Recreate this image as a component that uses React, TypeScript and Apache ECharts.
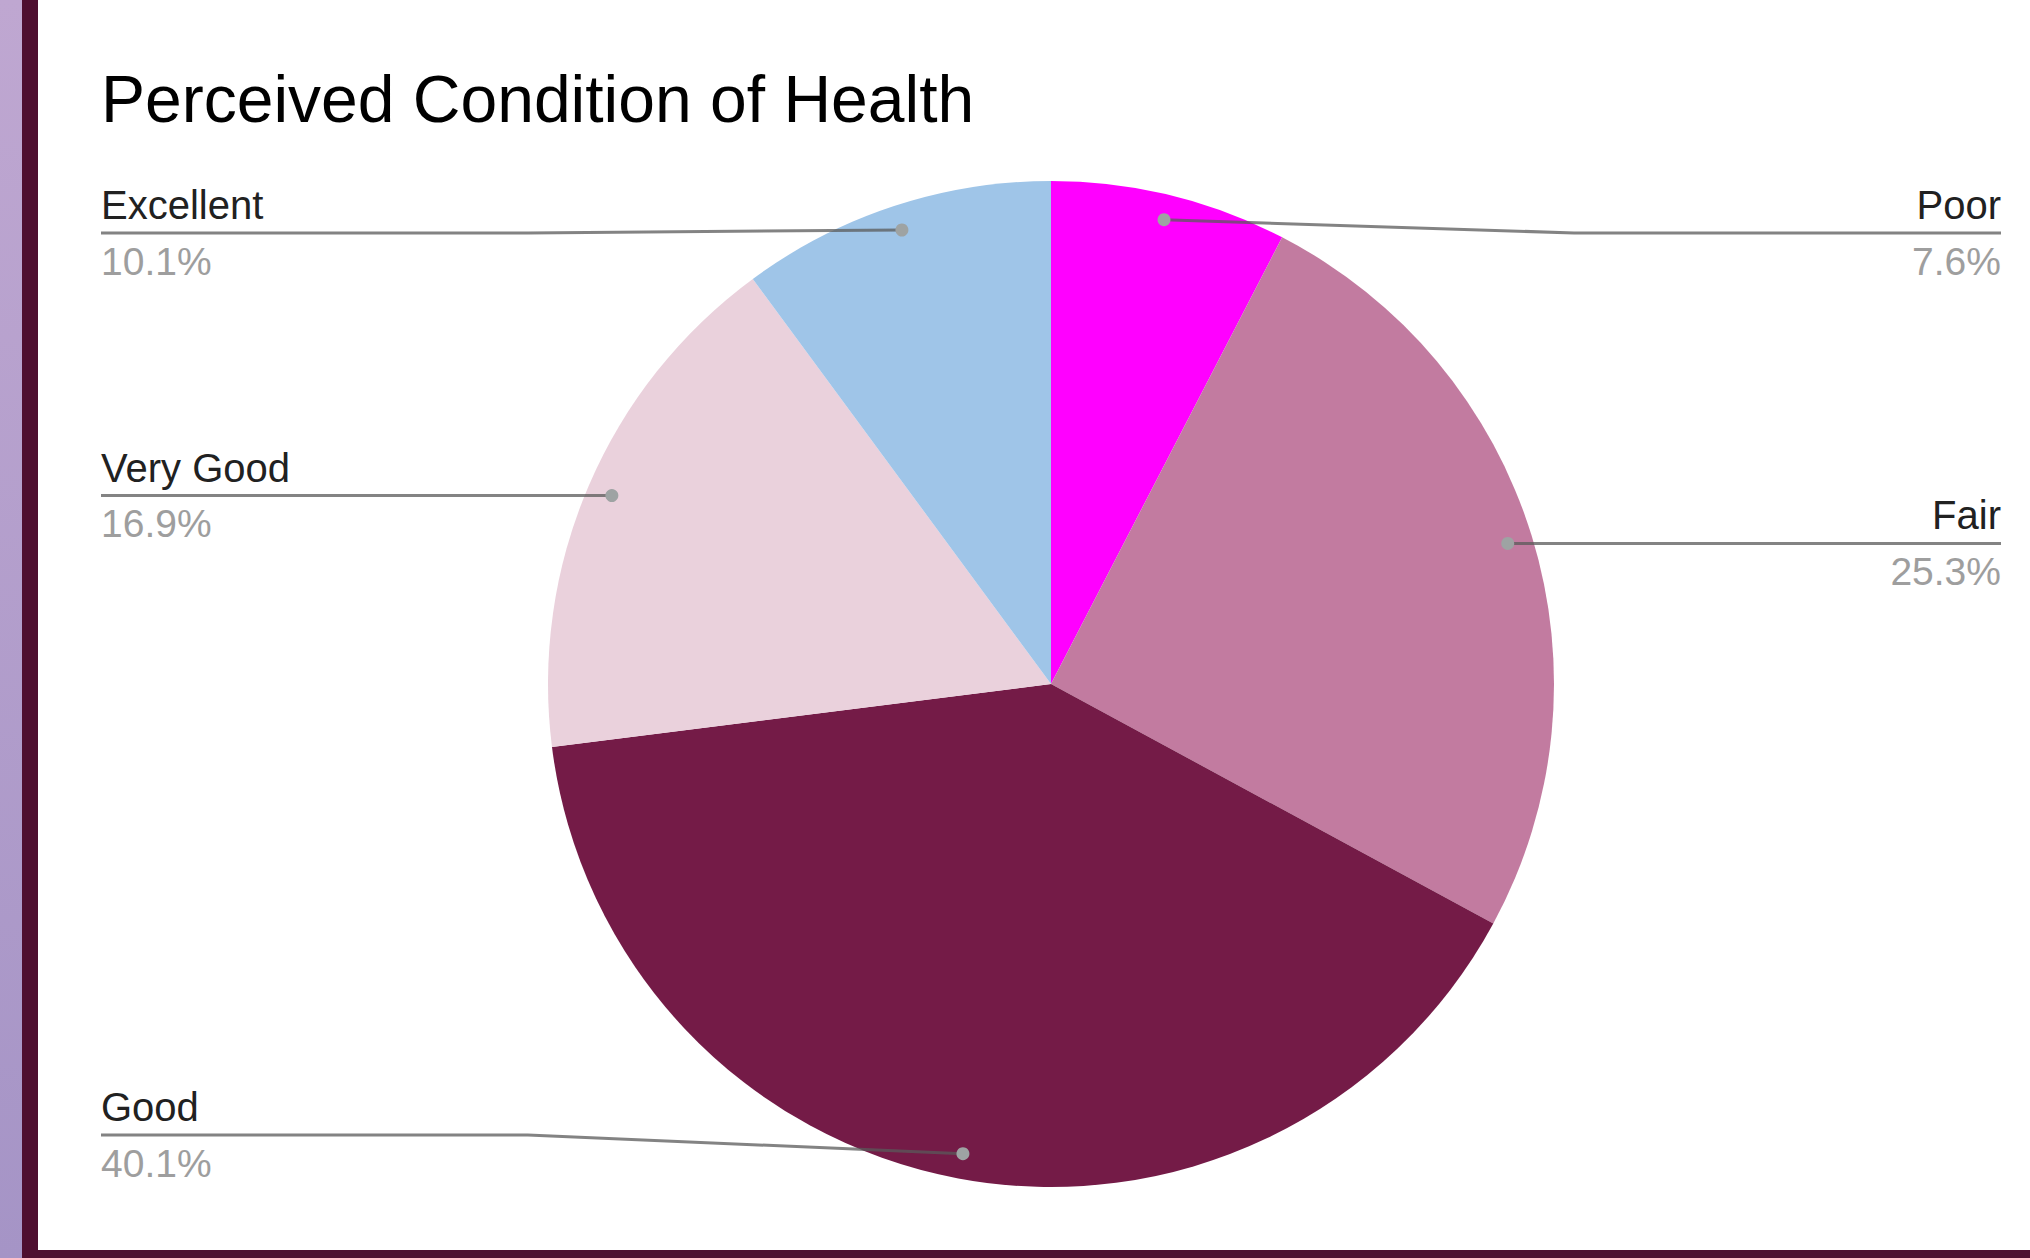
import React, { useEffect, useRef } from "react";
import * as echarts from "echarts";

const TITLE = "Perceived Condition of Health";
const categories = ["Poor", "Fair", "Good", "Very Good", "Excellent"];
const values = [7.6, 25.3, 40.1, 16.9, 10.1];
const colors = ["#ff00ff", "#c27ba0", "#741b47", "#ead1dc", "#9fc5e8"];

const W = 2030;
const H = 1258;
const CX = 1051;
const CY = 684;
const R = 503;
const DOT_R = 0.95;
const FONT = "'Liberation Sans', Arial, sans-serif";

export default function App() {
  const ref = useRef<HTMLDivElement>(null);

  useEffect(() => {
    if (!ref.current) return;
    const chart = echarts.init(ref.current, undefined, { renderer: "svg" });

    const total = values.reduce((a, b) => a + b, 0);
    const mids: number[] = [];
    let acc = 0;
    values.forEach((v) => {
      mids.push(((acc + v / 2) / total) * 100);
      acc += v;
    });

    const leftX = 101;
    const rightX = 2001;
    const minY = 233;
    const maxY = 1135;

    const dotPos = (i: number) => {
      const a = (mids[i] / 100) * Math.PI * 2;
      return [CX + DOT_R * R * Math.sin(a), CY - DOT_R * R * Math.cos(a)];
    };

    const pieData = categories.map((c, i) => ({ name: c, value: values[i], itemStyle: { color: colors[i] } }));

    chart.setOption({
      animation: false,
      backgroundColor: "#ffffff",
      title: {
        text: TITLE,
        left: 101,
        top: 66,
        padding: 0,
        textStyle: { fontSize: 66, fontWeight: "normal", color: "#000000", fontFamily: FONT },
      },
      graphic: [
        {
          type: "rect",
          shape: { x: 0, y: 0, width: 22, height: H },
          style: {
            fill: {
              type: "linear",
              x: 0, y: 0, x2: 0, y2: 1,
              colorStops: [
                { offset: 0, color: "#bfa7d1" },
                { offset: 1, color: "#a594c6" },
              ],
            },
          },
          silent: true,
        },
        { type: "rect", shape: { x: 22, y: 0, width: 16, height: H }, style: { fill: "#4e0f30" }, silent: true },
        { type: "rect", shape: { x: 22, y: 1250, width: W - 22, height: 8 }, style: { fill: "#4e0f30" }, silent: true },
      ],
      polar: { center: [CX, CY], radius: R },
      angleAxis: { type: "value", min: 0, max: 100, startAngle: 90, clockwise: true, show: false },
      radiusAxis: { type: "value", min: 0, max: 1, show: false },
      series: [
        {
          type: "pie",
          center: [CX, CY],
          radius: R,
          startAngle: 90,
          clockwise: true,
          itemStyle: { borderWidth: 0 },
          data: pieData,
          label: { show: false },
          labelLine: { show: false },
          emphasis: { disabled: true },
          silent: true,
          z: 2,
        },
        {
          type: "pie",
          center: [CX, CY],
          radius: R,
          startAngle: 90,
          clockwise: true,
          avoidLabelOverlap: false,
          percentPrecision: 1,
          itemStyle: { color: "rgba(0,0,0,0)", borderWidth: 0 },
          data: categories.map((c, i) => ({ name: c, value: values[i] })),
          label: {
            show: true,
            position: "outside",
            formatter: "{n|{b}}\n{p|{d}%}",
            rich: {
              n: { fontSize: 40, color: "#212121", lineHeight: 56, fontFamily: FONT },
              p: { fontSize: 39, color: "#9e9e9e", lineHeight: 56, fontFamily: FONT },
            },
          },
          labelLine: { show: true, smooth: false, lineStyle: { color: "rgba(90,90,90,0.75)", width: 3 } },
          labelLayout: (params: any) => {
            const i = params.dataIndex;
            const [dx, dy] = dotPos(i);
            const isRight = dx > CX;
            const ly = Math.min(maxY, Math.max(minY, dy));
            const elbowX = isRight ? CX + 1.04 * R : CX - 1.04 * R;
            const endX = isRight ? rightX : leftX;
            return {
              x: endX,
              y: ly,
              align: isRight ? "right" : "left",
              verticalAlign: "middle",
              labelLinePoints: [
                [dx, dy],
                [elbowX, ly],
                [endX, ly],
              ],
            };
          },
          emphasis: { disabled: true },
          silent: true,
          z: 4,
        },
        {
          type: "scatter",
          coordinateSystem: "polar",
          symbol: "circle",
          symbolSize: 13,
          itemStyle: { color: "#9ea3a3", opacity: 1 },
          data: mids.map((m) => [DOT_R, m]),
          silent: true,
          z: 6,
        },
      ],
    });

    return () => chart.dispose();
  }, []);

  return (
    <div
      ref={ref}
      style={{ position: "fixed", left: 0, top: 0, width: W, height: H }}
    />
  );
}
